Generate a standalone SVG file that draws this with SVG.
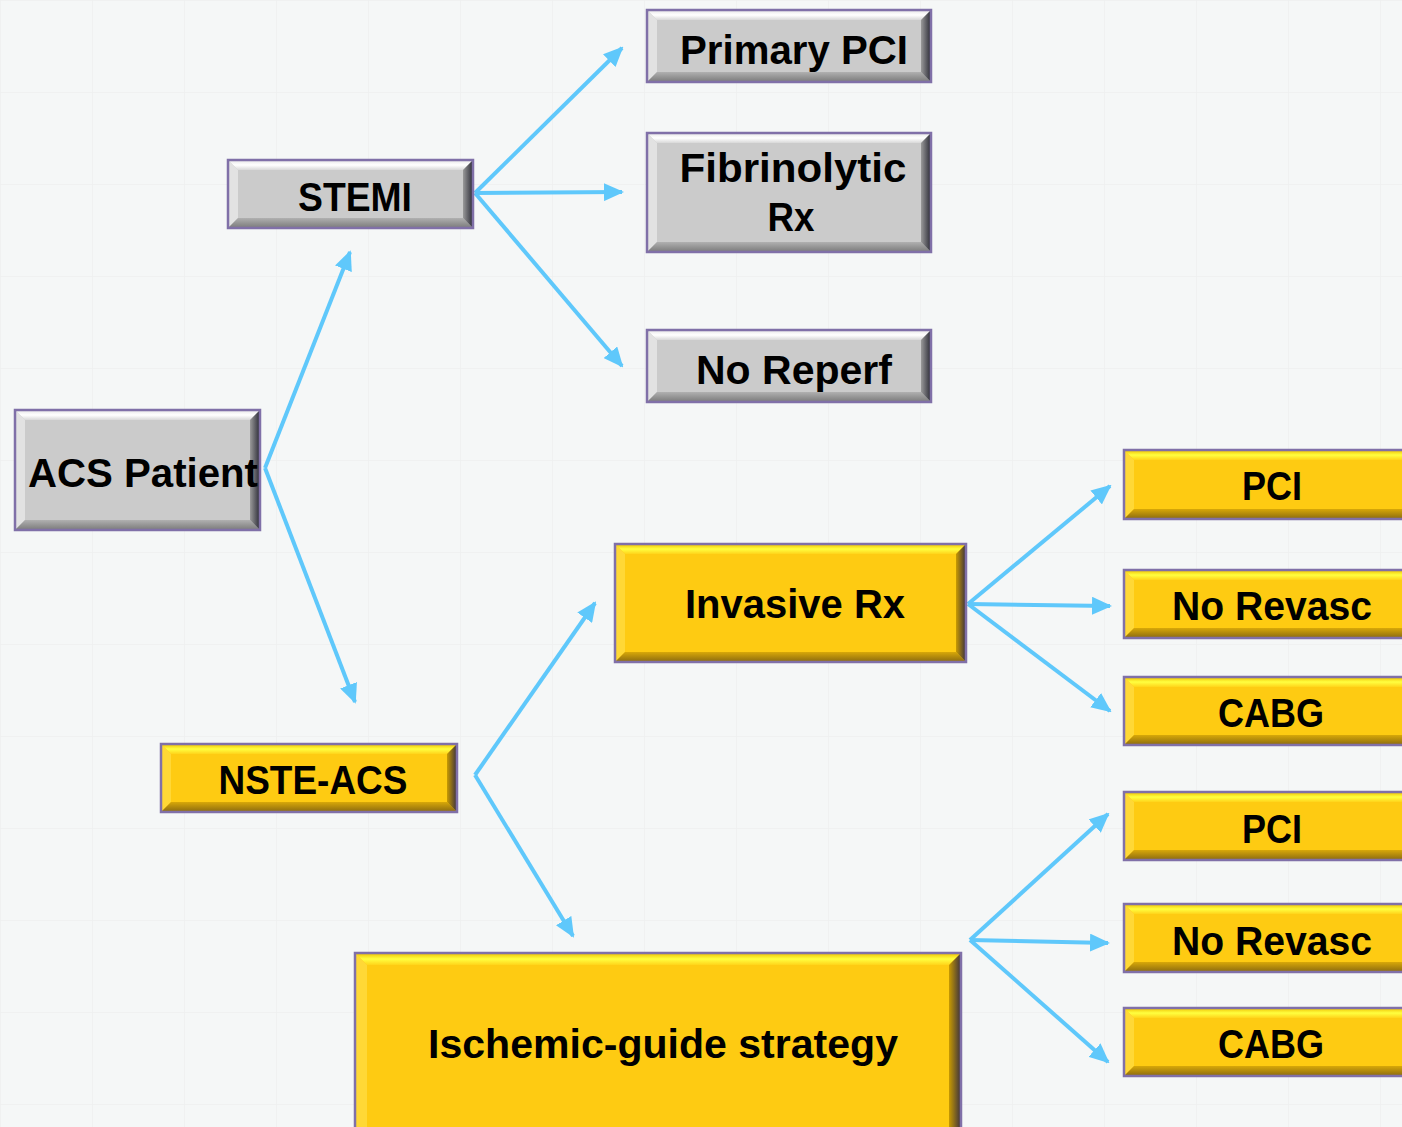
<svg xmlns="http://www.w3.org/2000/svg" width="1402" height="1127" viewBox="0 0 1402 1127">
<defs>
<style>
.lbl{font-family:"Liberation Sans","Open Sans",Arial,sans-serif;font-weight:bold;font-size:41px;fill:#000;text-anchor:middle}
.bd{fill:none;stroke:#8070a8;stroke-width:2.5}
.g-base{fill:#cbcbcb}.g-top{fill:url(#gTop)}.g-left{fill:#e2e2e2}.g-bot{fill:url(#gBot)}.g-right{fill:url(#gRight)}
.y-base{fill:#fecb12}.y-top{fill:url(#yTop)}.y-left{fill:#ffd836}.y-bot{fill:url(#yBot)}.y-right{fill:url(#yRight)}
.conn{stroke:#5fc8fb;stroke-width:4;fill:none;marker-end:url(#ah)}
</style>
<linearGradient id="gTop" x1="0" y1="0" x2="0" y2="1"><stop offset="0" stop-color="#e6e6e6"/><stop offset="0.5" stop-color="#ffffff"/><stop offset="1" stop-color="#d8d8d8"/></linearGradient>
<linearGradient id="gBot" x1="0" y1="0" x2="0" y2="1"><stop offset="0" stop-color="#b0b0b0"/><stop offset="1" stop-color="#7a7a7a"/></linearGradient>
<linearGradient id="gRight" x1="0" y1="0" x2="1" y2="0"><stop offset="0" stop-color="#9a9a9a"/><stop offset="1" stop-color="#2a2a35"/></linearGradient>
<linearGradient id="yTop" x1="0" y1="0" x2="0" y2="1"><stop offset="0" stop-color="#f0c000"/><stop offset="0.5" stop-color="#ffff40"/><stop offset="1" stop-color="#ffd41a"/></linearGradient>
<linearGradient id="yBot" x1="0" y1="0" x2="0" y2="1"><stop offset="0" stop-color="#d8a808"/><stop offset="1" stop-color="#8a6a10"/></linearGradient>
<linearGradient id="yRight" x1="0" y1="0" x2="1" y2="0"><stop offset="0" stop-color="#c89a00"/><stop offset="1" stop-color="#3a3040"/></linearGradient>
<marker id="ah" markerWidth="20" markerHeight="18" refX="18" refY="9" orient="auto" markerUnits="userSpaceOnUse"><path d="M0,0 L20,9 L0,18 Z" fill="#5fc8fb"/></marker>
<pattern id="grid" width="92" height="92" patternUnits="userSpaceOnUse"><path d="M0,0 H92 M0,0 V92" stroke="#eef0f0" stroke-width="1.5" fill="none"/></pattern>
</defs>
<rect width="1402" height="1127" fill="#f5f7f7"/>
<rect width="1402" height="1127" fill="url(#grid)"/>

<g id="connectors">
<line class="conn" x1="265" y1="468" x2="350" y2="252"/>
<line class="conn" x1="265" y1="468" x2="355" y2="702"/>
<line class="conn" x1="475" y1="193" x2="622" y2="48"/>
<line class="conn" x1="475" y1="193" x2="622" y2="192"/>
<line class="conn" x1="475" y1="193" x2="622" y2="366"/>
<line class="conn" x1="475" y1="775" x2="595" y2="603"/>
<line class="conn" x1="475" y1="775" x2="573" y2="936"/>
<line class="conn" x1="968" y1="604" x2="1110" y2="486"/>
<line class="conn" x1="968" y1="604" x2="1110" y2="606"/>
<line class="conn" x1="968" y1="604" x2="1110" y2="711"/>
<line class="conn" x1="970" y1="940" x2="1108" y2="814"/>
<line class="conn" x1="970" y1="940" x2="1108" y2="943"/>
<line class="conn" x1="970" y1="940" x2="1108" y2="1062"/>
</g>

<!-- gray nodes -->
<g id="acs">
<rect class="g-base" x="15" y="410" width="245" height="120"/>
<polygon class="g-top" points="15,410 260,410 250,420 25,420"/>
<polygon class="g-left" points="15,410 25,420 25,520 15,530"/>
<polygon class="g-bot" points="15,530 25,520 250,520 260,530"/>
<polygon class="g-right" points="260,410 260,530 250,520 250,420"/>
<rect class="bd" x="15" y="410" width="245" height="120"/>
<text class="lbl" x="143" y="487" textLength="230" lengthAdjust="spacingAndGlyphs">ACS Patient</text>
</g>
<g id="stemi">
<rect class="g-base" x="228" y="160" width="245" height="68"/>
<polygon class="g-top" points="228,160 473,160 463,170 238,170"/>
<polygon class="g-left" points="228,160 238,170 238,218 228,228"/>
<polygon class="g-bot" points="228,228 238,218 463,218 473,228"/>
<polygon class="g-right" points="473,160 473,228 463,218 463,170"/>
<rect class="bd" x="228" y="160" width="245" height="68"/>
<text class="lbl" x="355" y="211" textLength="114" lengthAdjust="spacingAndGlyphs">STEMI</text>
</g>
<g id="primary-pci">
<rect class="g-base" x="647" y="10" width="284" height="72"/>
<polygon class="g-top" points="647,10 931,10 921,20 657,20"/>
<polygon class="g-left" points="647,10 657,20 657,72 647,82"/>
<polygon class="g-bot" points="647,82 657,72 921,72 931,82"/>
<polygon class="g-right" points="931,10 931,82 921,72 921,20"/>
<rect class="bd" x="647" y="10" width="284" height="72"/>
<text class="lbl" x="794" y="64" textLength="228" lengthAdjust="spacingAndGlyphs">Primary PCI</text>
</g>
<g id="fibrinolytic">
<rect class="g-base" x="647" y="133" width="284" height="119"/>
<polygon class="g-top" points="647,133 931,133 921,143 657,143"/>
<polygon class="g-left" points="647,133 657,143 657,242 647,252"/>
<polygon class="g-bot" points="647,252 657,242 921,242 931,252"/>
<polygon class="g-right" points="931,133 931,252 921,242 921,143"/>
<rect class="bd" x="647" y="133" width="284" height="119"/>
<text class="lbl" x="793" y="182" textLength="227" lengthAdjust="spacingAndGlyphs">Fibrinolytic</text>
<text class="lbl" x="791" y="231" textLength="47" lengthAdjust="spacingAndGlyphs">Rx</text>
</g>
<g id="no-reperf">
<rect class="g-base" x="647" y="330" width="284" height="72"/>
<polygon class="g-top" points="647,330 931,330 921,340 657,340"/>
<polygon class="g-left" points="647,330 657,340 657,392 647,402"/>
<polygon class="g-bot" points="647,402 657,392 921,392 931,402"/>
<polygon class="g-right" points="931,330 931,402 921,392 921,340"/>
<rect class="bd" x="647" y="330" width="284" height="72"/>
<text class="lbl" x="794" y="384" textLength="196" lengthAdjust="spacingAndGlyphs">No Reperf</text>
</g>

<!-- yellow nodes -->
<g id="nste-acs">
<rect class="y-base" x="161" y="744" width="296" height="68"/>
<polygon class="y-top" points="161,744 457,744 447,754 171,754"/>
<polygon class="y-left" points="161,744 171,754 171,802 161,812"/>
<polygon class="y-bot" points="161,812 171,802 447,802 457,812"/>
<polygon class="y-right" points="457,744 457,812 447,802 447,754"/>
<rect class="bd" x="161" y="744" width="296" height="68"/>
<text class="lbl" x="313" y="794" textLength="189" lengthAdjust="spacingAndGlyphs">NSTE-ACS</text>
</g>
<g id="invasive">
<rect class="y-base" x="615" y="544" width="351" height="118"/>
<polygon class="y-top" points="615,544 966,544 956,554 625,554"/>
<polygon class="y-left" points="615,544 625,554 625,652 615,662"/>
<polygon class="y-bot" points="615,662 625,652 956,652 966,662"/>
<polygon class="y-right" points="966,544 966,662 956,652 956,554"/>
<rect class="bd" x="615" y="544" width="351" height="118"/>
<text class="lbl" x="795" y="618" textLength="220" lengthAdjust="spacingAndGlyphs">Invasive Rx</text>
</g>
<g id="ischemic">
<rect class="y-base" x="355" y="953" width="606" height="190"/>
<polygon class="y-top" points="355,953 961,953 949,965 367,965"/>
<polygon class="y-left" points="355,953 367,965 367,1143 355,1143"/>
<polygon class="y-right" points="961,953 961,1143 949,1143 949,965"/>
<rect class="bd" x="355" y="953" width="606" height="190"/>
<text class="lbl" x="663" y="1058" textLength="470" lengthAdjust="spacingAndGlyphs">Ischemic-guide strategy</text>
</g>
<g id="pci-1">
<rect class="y-base" x="1124" y="450" width="300" height="69"/>
<polygon class="y-top" points="1124,450 1424,450 1414,460 1134,460"/>
<polygon class="y-left" points="1124,450 1134,460 1134,509 1124,519"/>
<polygon class="y-bot" points="1124,519 1134,509 1414,509 1424,519"/>
<rect class="bd" x="1124" y="450" width="300" height="69"/>
<text class="lbl" x="1272" y="500" textLength="60" lengthAdjust="spacingAndGlyphs">PCI</text>
</g>
<g id="norevasc-1">
<rect class="y-base" x="1124" y="570" width="300" height="68"/>
<polygon class="y-top" points="1124,570 1424,570 1414,580 1134,580"/>
<polygon class="y-left" points="1124,570 1134,580 1134,628 1124,638"/>
<polygon class="y-bot" points="1124,638 1134,628 1414,628 1424,638"/>
<rect class="bd" x="1124" y="570" width="300" height="68"/>
<text class="lbl" x="1272" y="620" textLength="200" lengthAdjust="spacingAndGlyphs">No Revasc</text>
</g>
<g id="cabg-1">
<rect class="y-base" x="1124" y="677" width="300" height="68"/>
<polygon class="y-top" points="1124,677 1424,677 1414,687 1134,687"/>
<polygon class="y-left" points="1124,677 1134,687 1134,735 1124,745"/>
<polygon class="y-bot" points="1124,745 1134,735 1414,735 1424,745"/>
<rect class="bd" x="1124" y="677" width="300" height="68"/>
<text class="lbl" x="1271" y="727" textLength="106" lengthAdjust="spacingAndGlyphs">CABG</text>
</g>
<g id="pci-2">
<rect class="y-base" x="1124" y="792" width="300" height="68"/>
<polygon class="y-top" points="1124,792 1424,792 1414,802 1134,802"/>
<polygon class="y-left" points="1124,792 1134,802 1134,850 1124,860"/>
<polygon class="y-bot" points="1124,860 1134,850 1414,850 1424,860"/>
<rect class="bd" x="1124" y="792" width="300" height="68"/>
<text class="lbl" x="1272" y="843" textLength="60" lengthAdjust="spacingAndGlyphs">PCI</text>
</g>
<g id="norevasc-2">
<rect class="y-base" x="1124" y="904" width="300" height="68"/>
<polygon class="y-top" points="1124,904 1424,904 1414,914 1134,914"/>
<polygon class="y-left" points="1124,904 1134,914 1134,962 1124,972"/>
<polygon class="y-bot" points="1124,972 1134,962 1414,962 1424,972"/>
<rect class="bd" x="1124" y="904" width="300" height="68"/>
<text class="lbl" x="1272" y="955" textLength="200" lengthAdjust="spacingAndGlyphs">No Revasc</text>
</g>
<g id="cabg-2">
<rect class="y-base" x="1124" y="1008" width="300" height="68"/>
<polygon class="y-top" points="1124,1008 1424,1008 1414,1018 1134,1018"/>
<polygon class="y-left" points="1124,1008 1134,1018 1134,1066 1124,1076"/>
<polygon class="y-bot" points="1124,1076 1134,1066 1414,1066 1424,1076"/>
<rect class="bd" x="1124" y="1008" width="300" height="68"/>
<text class="lbl" x="1271" y="1058" textLength="106" lengthAdjust="spacingAndGlyphs">CABG</text>
</g>
</svg>
